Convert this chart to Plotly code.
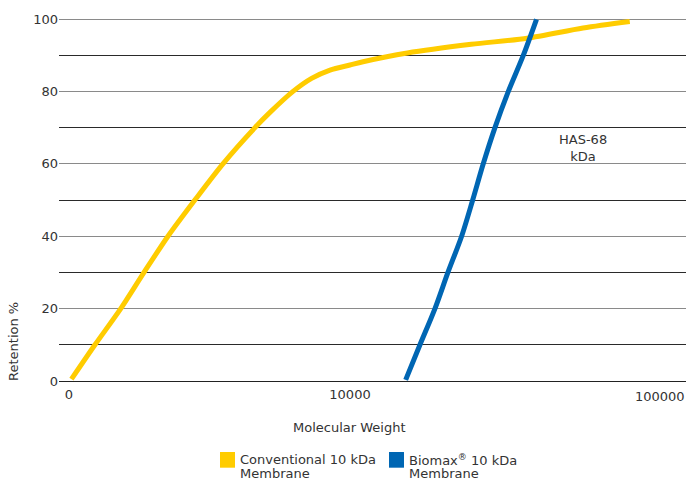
import numpy as np
import plotly.graph_objects as go

# Data (x: molecular weight, log scale; y: retention %)
conv_mw = [1020, 1237, 1528, 1849, 2250, 2805, 3530, 4590, 5190, 6270, 7300, 8490, 10000, 11130, 16000, 27000, 42700, 67500, 99000]
conv_ret = [0.5, 10, 20, 30, 40, 50, 60, 70, 74.2, 80, 83.6, 85.9, 87.3, 88.2, 90.6, 93.0, 94.7, 97.5, 99.3]

bio_mw = [15780, 17740, 20060, 22310, 24960, 27330, 29800, 32800, 36600, 41400, 46100]
bio_ret = [0.3, 10, 20, 30, 40, 50, 60, 70, 80, 90, 99.9]

x_tickvals = [1000, 10000, 100000]
x_ticktext = ["0", "10000", ""]
y_tickvals = [0, 20, 40, 60, 80, 100]

legend_names = [["Conventional 10 kDa", "Membrane"], ["Biomax<sup>®</sup> 10 kDa", "Membrane"]]

YELLOW = "#FFCC00"
BLUE = "#0066B3"
TXT = "#333333"
FONT = "DejaVu Sans"

fig = go.Figure()
fig.add_trace(go.Scatter(x=conv_mw, y=conv_ret, mode="lines", line=dict(color=YELLOW, width=5, shape="spline", smoothing=0.8),
                         name="Conventional 10 kDa Membrane", hoverinfo="skip"))
fig.add_trace(go.Scatter(x=bio_mw, y=bio_ret, mode="lines", line=dict(color=BLUE, width=5, shape="spline", smoothing=0.8),
                         name="Biomax® 10 kDa Membrane", hoverinfo="skip"))

fig.update_layout(
    width=689, height=480,
    margin=dict(l=59, r=3, t=15, b=95, autoexpand=False),
    paper_bgcolor="white", plot_bgcolor="white",
    font=dict(family=FONT, size=13, color=TXT),
    showlegend=False,
    xaxis=dict(type="log", range=[2.96441, 5.19573], tickvals=x_tickvals, ticktext=x_ticktext,
               showgrid=False, zeroline=False, showline=False, ticks="", automargin=False,
               tickfont=dict(size=13, color=TXT)),
    yaxis=dict(range=[-1.105, 101.105], tickvals=y_tickvals, showgrid=True, gridcolor="#8a8a8a", gridwidth=1,
               zeroline=True, zerolinecolor="#222222", zerolinewidth=1, showline=False, ticks="", automargin=False,
               tickfont=dict(size=13, color=TXT),
               minor=dict(dtick=10, tick0=0, showgrid=True, gridcolor="#2a2a2a", gridwidth=1)),
)

fig.add_annotation(text="100000", xref="paper", yref="paper", x=1, y=-0.0324, xanchor="right", yanchor="middle",
                   xshift=1, showarrow=False, font=dict(size=13, color=TXT))
fig.add_annotation(text="Molecular Weight", xref="paper", yref="paper", x=0.464, y=-0.116, xanchor="center",
                   yanchor="middle", showarrow=False, font=dict(size=13, color=TXT))
fig.add_annotation(text="Retention %", xref="paper", yref="paper", x=-0.0718, y=0.119, xanchor="center",
                   yanchor="middle", textangle=-90, showarrow=False, font=dict(size=13, color=TXT))
fig.add_annotation(text="HAS-68<br>kDa", xref="x", yref="y", x=np.log10(67500), y=64.4, xanchor="center",
                   yanchor="middle", showarrow=False, font=dict(size=13, color=TXT))

# manual legend with square swatches
swatch_x = [(0.2568, 0.2807), (0.5263, 0.5502)]
text_x = [0.2871, 0.5566]
for (x0, x1), tx, names, col in zip(swatch_x, text_x, legend_names, [YELLOW, BLUE]):
    fig.add_shape(type="rect", xref="paper", yref="paper", x0=x0, x1=x1, y0=-0.2235, y1=-0.1811,
                  fillcolor=col, line=dict(width=0))
    for ly, line_txt in zip([-0.2027, -0.2405], names):
        fig.add_annotation(text=line_txt, xref="paper", yref="paper", x=tx, y=ly, xanchor="left",
                           yanchor="middle", borderpad=0, showarrow=False, font=dict(size=13, color=TXT))

fig.write_html("out.html", config={"displayModeBar": False},
               post_script="document.body.style.margin='0px';document.body.style.overflow='hidden';")
